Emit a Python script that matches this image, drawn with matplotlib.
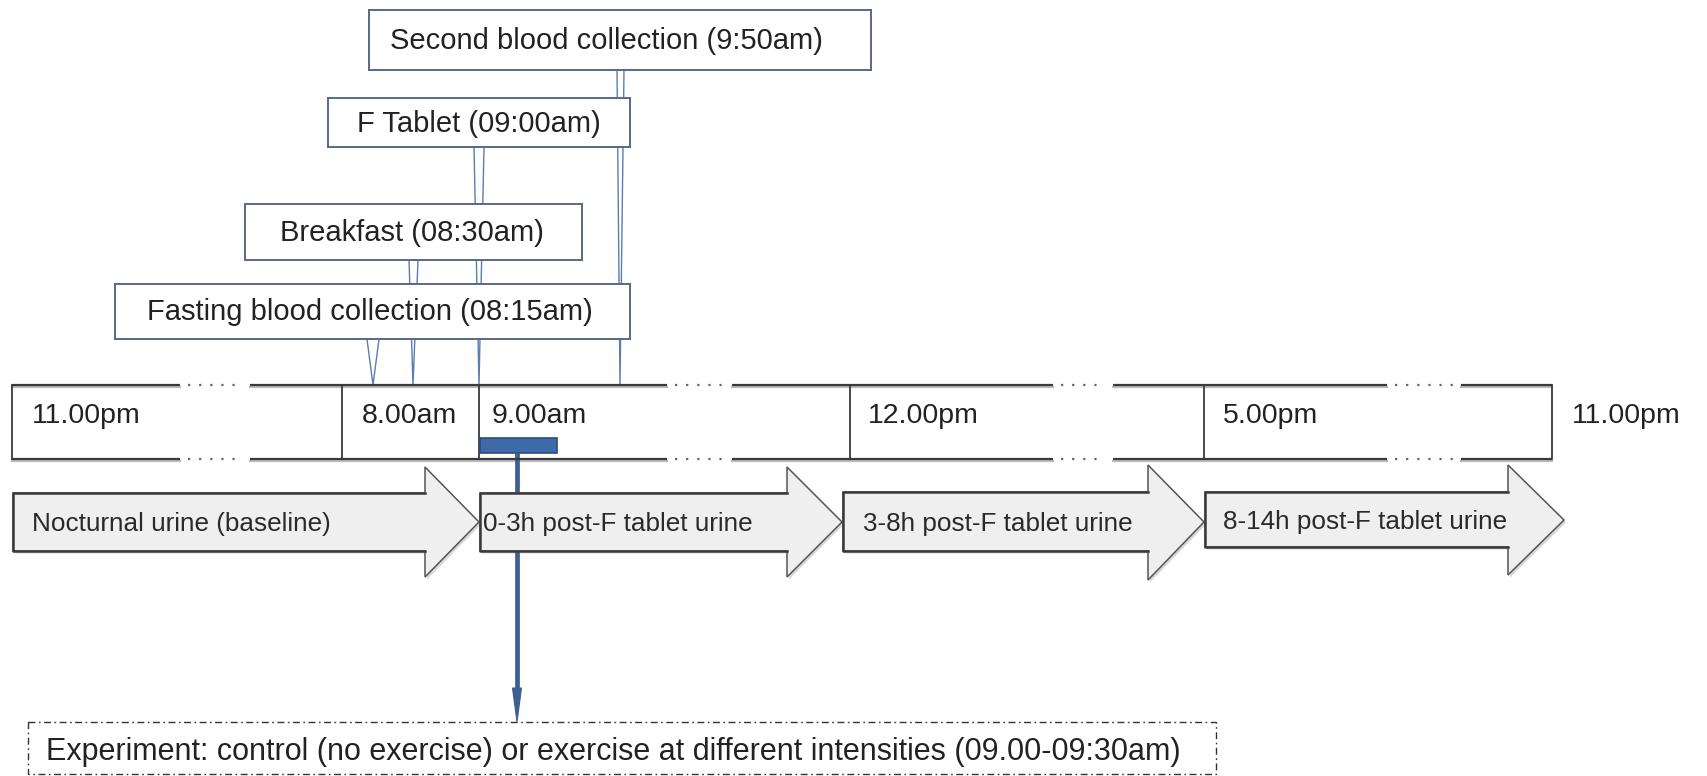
"""
Study-day timeline: blood collections, F tablet, urine collection windows
and the exercise session, drawn as a plain matplotlib diagram.
"""
import matplotlib
matplotlib.use("Agg")
import matplotlib.pyplot as plt
from matplotlib.patches import Polygon, Rectangle

plt.rcParams["font.family"] = ["Liberation Sans", "DejaVu Sans"]

# ---- content -------------------------------------------------------------
TIME_LABELS = ["11.00pm", "8.00am", "9.00am", "12.00pm", "5.00pm", "11.00pm"]
EVENTS = ["Second blood collection (9:50am)", "F Tablet (09:00am)",
          "Breakfast (08:30am)", "Fasting blood collection (08:15am)"]
URINE = ["Nocturnal urine (baseline)", "0-3h post-F tablet urine",
         "3-8h post-F tablet urine", "8-14h post-F tablet urine"]
EXPERIMENT = ("Experiment: control (no exercise) or exercise at different "
              "intensities (09.00-09:30am)")

# ---- layout (pixel coordinates, y downwards) -----------------------------
W, H = 1708, 776
TICK_X = [12, 342, 479, 850, 1204, 1552]
LABEL_X = [32, 362, 492, 868, 1223, 1572]
LINE_TOP, LINE_BOT = 385, 459
GAPS = [(180, 250), (667, 732), (1053, 1113), (1387, 1461)]

BOXES = [(369, 871, 10, 70), (328, 630, 98, 147),
         (245, 582, 204, 260), (115, 630, 284, 339)]
BOX_TEXT_X = [606, 479, 412, 370]
WEDGES = [(617, 624, 70, 620), (474, 484, 147, 479),
          (409, 418, 260, 413), (367, 379, 339, 373)]

# x0, x_head, body_top, body_bot, head_top, head_bot, tip_x, tip_y
ARROWS = [(13, 425, 493, 551, 467, 577, 479, 522),
          (480, 787, 493, 551, 467, 577, 842, 522),
          (843, 1148, 492, 551, 465, 580, 1204, 522),
          (1205, 1508, 492, 547, 465, 575, 1564, 520)]
ARROW_TEXT_DX = [19, 3, 20, 18]

fig = plt.figure(figsize=(W / 100, H / 100), dpi=100)
ax = fig.add_axes([0, 0, 1, 1])
ax.set_xlim(0, W)
ax.set_ylim(H, 0)
ax.axis("off")

LINE_C = "#3a3a3a"
BOX_C = "#56698a"
WEDGE_C = "#5a7db0"
BLUE = "#3d5f93"

# callout wedges (behind the boxes)
for xl, xr, yb, xt in WEDGES:
    ax.add_patch(Polygon([(xl, yb), (xr, yb), (xt, LINE_TOP)], closed=True,
                         fc="white", ec=WEDGE_C, lw=1.0, zorder=2))

# callout boxes
for (x0, x1, y0, y1), tx, txt in zip(BOXES, BOX_TEXT_X, EVENTS):
    ax.add_patch(Rectangle((x0, y0), x1 - x0, y1 - y0, fc="white",
                           ec=BOX_C, lw=1.4, zorder=3))
    ax.text(tx, (y0 + y1) / 2 + 1, txt, fontsize=21, color="#222",
            ha="center", va="center", zorder=4)

# timeline rails with dotted breaks
for y in (LINE_TOP, LINE_BOT):
    xs = [TICK_X[0]]
    for g0, g1 in GAPS:
        xs += [g0, g1]
    xs.append(TICK_X[-1])
    for a, b in zip(xs[0::2], xs[1::2]):
        ax.plot([a, b], [y + 1.5, y + 1.5], color="#bbbbbb", lw=1.6, zorder=1)
        ax.plot([a, b], [y, y], color=LINE_C, lw=1.6, zorder=5,
                solid_capstyle="butt")
    for g0, g1 in GAPS:
        ax.plot([g0 + 8, g1 - 8], [y, y], color="#666", lw=1.6, zorder=5,
                linestyle=(0, (1, 4)))
for x in TICK_X:
    ax.plot([x, x], [LINE_TOP, LINE_BOT], color=LINE_C, lw=1.3, zorder=5)
for x, lab in zip(LABEL_X, TIME_LABELS):
    ax.text(x, 423, lab, fontsize=20.5, color="#222", ha="left",
            va="baseline", zorder=6)

# urine collection block arrows
for (x0, xh, bt, bb, ht, hb, tx, ty), dx, txt in zip(ARROWS, ARROW_TEXT_DX,
                                                     URINE):
    pts = [(x0, bt), (xh, bt), (xh, ht), (tx, ty), (xh, hb), (xh, bb), (x0, bb)]
    shadow = [(px + 2, py + 2.5) for px, py in pts]
    ax.add_patch(Polygon(shadow, closed=True, fc="#d8d8d8", ec="none",
                         zorder=1))
    ax.add_patch(Polygon(pts, closed=True, fc="#efefef", ec="#555555",
                         lw=1.1, joinstyle="miter", zorder=2))
    ax.plot([xh, x0, x0, xh], [bt, bt, bb, bb], color="#3a3a3a", lw=1.8,
            zorder=3)
    ax.text(x0 + dx, (bt + bb) / 2 + 2, txt, fontsize=18.8, color="#2a2a2a",
            ha="left", va="center", zorder=4)

# exercise marker: bar on the timeline and stem down to the experiment box
ax.plot([517, 517], [453, 692], color=BLUE, lw=3.4, zorder=1.5,
        solid_capstyle="butt")
ax.add_patch(Polygon([(512.5, 688), (521.5, 688), (517, 722)], closed=True,
                     fc=BLUE, ec=BLUE, lw=0.8, zorder=6))
ax.add_patch(Rectangle((480, 438), 77, 15, fc="#3e6aa8", ec="#2d4b7c",
                       lw=1.2, zorder=7))

# experiment box
ax.add_patch(Rectangle((28, 722), 1188, 52, fc="white", ec="#333",
                       lw=1.0, linestyle=(0, (5, 2.5, 1.2, 2.5)), zorder=5))
ax.text(46, 752, EXPERIMENT, fontsize=22, color="#222", ha="left",
        va="center", zorder=6)

fig.savefig("out.png", dpi=100, facecolor="white")
